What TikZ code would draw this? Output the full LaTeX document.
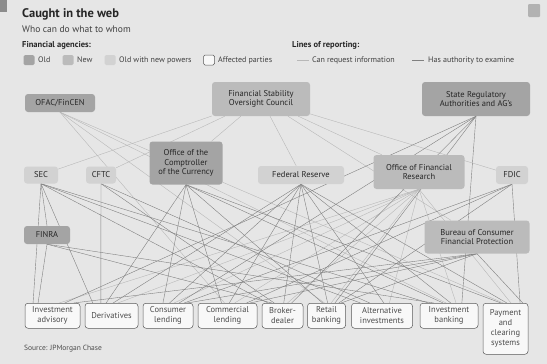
\documentclass[tikz,border=0pt]{standalone}
\usepackage{fontspec}
\setmainfont{PT Sans}
\usetikzlibrary{calc}
\definecolor{cBg}{HTML}{E6E6E6}
\definecolor{cOld}{HTML}{A4A4A4}
\definecolor{cNew}{HTML}{BBBBBB}
\definecolor{cOnp}{HTML}{D2D2D2}
\definecolor{cTxt}{HTML}{262626}
\pgfdeclarelayer{bg}
\pgfdeclarelayer{lines}
\pgfsetlayers{bg,lines,main}
\begin{document}
\begin{tikzpicture}[x=1pt,y=-1pt,
  agency/.style={rounded corners=3pt, align=center, inner sep=1pt, text=cTxt,
    font=\fontsize{8.5}{9.6}\selectfont},
  old/.style={agency, fill=cOld},
  new/.style={agency, fill=cNew},
  onp/.style={agency, fill=cOnp},
  sector/.style={draw=black!65, line width=0.5pt, rounded corners=3pt, fill=white!70!cBg,
    align=center, inner sep=1pt, anchor=north, minimum height=25pt, text=black!70,
    font=\fontsize{8.5}{10}\selectfont},
  req/.style={draw=black!28, line width=0.4pt},
  exa/.style={draw=black!50, line width=0.4pt},
  swatch/.style={rounded corners=1.5pt, minimum width=11pt, minimum height=10pt, inner sep=0pt},
  leg/.style={anchor=west, inner sep=0pt, text=black!75, font=\fontsize{8}{9}\selectfont},
  head/.style={anchor=west, inner sep=0pt, text=cTxt, font=\bfseries\fontsize{8.5}{10}\selectfont}]
\useasboundingbox (0,0) rectangle (547,364);
\begin{pgfonlayer}{bg}
  \fill[cBg] (0,0) rectangle (547,364);
  \fill[black!45] (0,0) rectangle (7,12);
  \fill[black!30, rounded corners=1pt] (528,4) rectangle (540,17);
\end{pgfonlayer}

% titles
\node[anchor=west, inner sep=0pt, text=cTxt, font=\bfseries\fontsize{12.5}{14}\selectfont] (title) at (22,14) {Caught in the web};
\node[anchor=west, inner sep=0pt, text=black!75, font=\fontsize{9.5}{11}\selectfont] (sub) at (22,29) {Who can do what to whom};
\node[head] (fa) at (22,45) {Financial agencies:};
\node[head] (lr) at (292,45) {Lines of reporting:};

% legend
\node[swatch, fill=cOld] (sOld) at (29,60) {};
\node[leg] (tOld) at (38,60) {Old};
\node[swatch, fill=cNew] (sNew) at (68,60) {};
\node[leg] (tNew) at (77,60) {New};
\node[swatch, fill=cOnp] (sOnp) at (110,60) {};
\node[leg] (tOnp) at (119,60) {Old with new powers};
\node[swatch, fill=white!70!cBg, draw=black!65, line width=0.5pt] (sAff) at (209,60) {};
\node[leg] (tAff) at (218,60) {Affected parties};
\coordinate (rq1) at (297,60); \coordinate (rq2) at (309,60);
\draw[req, line width=0.7pt] (rq1) -- (rq2);
\node[leg] (tReq) at (312,60) {Can request information};
\coordinate (ex1) at (412,60); \coordinate (ex2) at (424,60);
\draw[exa, line width=0.7pt] (ex1) -- (ex2);
\node[leg] (tExa) at (428,60) {Has authority to examine};

% agencies
\node[old, minimum width=70pt, minimum height=18pt] (ofac) at (60,103) {OFAC/FinCEN};
\node[new, minimum width=98pt, minimum height=34pt] (fsoc) at (261,99) {Financial Stability\\Oversight Council};
\node[old, minimum width=108pt, minimum height=34pt] (state) at (476,99) {State Regulatory\\Authorities and AG's};
\node[onp, minimum width=34pt, minimum height=17pt] (sec) at (41,175) {SEC};
\node[onp, minimum width=30pt, minimum height=17pt] (cftc) at (101,175) {CFTC};
\node[old, minimum width=73pt, minimum height=43pt] (occ) at (186,163) {Office of the\\Comptroller\\of the Currency};
\node[onp, minimum width=86pt, minimum height=18pt] (fed) at (301,175) {Federal Reserve};
\node[new, minimum width=91pt, minimum height=34pt] (ofr) at (419,172) {Office of Financial\\Research};
\node[onp, minimum width=32pt, minimum height=18pt] (fdic) at (512,175) {FDIC};
\node[old, minimum width=46pt, minimum height=18pt] (finra) at (47,235) {FINRA};
\node[new, minimum width=105pt, minimum height=33pt] (cfpb) at (477,237) {Bureau of Consumer\\Financial Protection};

% affected parties
\node[sector, minimum width=55pt] (ia) at (52.5,303) {Investment\\advisory};
\node[sector, minimum width=53pt] (der) at (111.5,303) {Derivatives};
\node[sector, minimum width=50pt] (cl) at (168,303) {Consumer\\lending};
\node[sector, minimum width=59pt] (coml) at (227.5,303) {Commercial\\lending};
\node[sector, minimum width=41pt] (bd) at (282.5,303) {Broker-\\dealer};
\node[sector, minimum width=38pt] (rb) at (326.5,303) {Retail\\banking};
\node[sector, minimum width=61pt] (ai) at (382,303) {Alternative\\investments};
\node[sector, minimum width=58pt] (ib) at (449,303) {Investment\\banking};
\node[sector, minimum width=45pt, minimum height=51pt] (pcs) at (505.5,303) {Payment\\and\\clearing\\systems};

\node[anchor=west, inner sep=0pt, text=black!70, font=\fontsize{7.5}{9}\selectfont] (src) at (24,349) {Source: JPMorgan Chase};

% connectors: each source lands at its own point along the top of a sector box
\begin{pgfonlayer}{lines}
  \foreach \b in {sec,cftc,occ,fed,ofr,fdic,cfpb}
    \draw[req] (fsoc) -- (\b);
  \foreach \b in {ia,der,cl,coml,bd,rb,ai,ib,pcs}
    \draw[req] (ofr.south) -- ($(\b.north west)!0.62!(\b.north east)$);
  \foreach \b in {rb,coml,pcs,ib}
    \draw[req] (ofac.south) -- ($(\b.north west)!0.45!(\b.north east)$);
  \draw[exa] (sec.south) -- (finra.north);
  \foreach \b in {ia,der,bd,ai,ib}
    \draw[exa] (sec.south) -- ($(\b.north west)!0.15!(\b.north east)$);
  \foreach \b in {der,bd,ai}
    \draw[exa] (cftc.south) -- ($(\b.north west)!0.3!(\b.north east)$);
  \foreach \b in {cl,coml,rb,ib,pcs,der}
    \draw[exa] (occ.south) -- ($(\b.north west)!0.4!(\b.north east)$);
  \foreach \b in {cl,coml,rb,ib,pcs,bd,der,ai}
    \draw[exa] (fed.south) -- ($(\b.north west)!0.53!(\b.north east)$);
  \foreach \b in {cl,coml,rb,pcs}
    \draw[exa] (fdic.south) -- ($(\b.north west)!0.82!(\b.north east)$);
  \foreach \b in {bd,ia,ib}
    \draw[exa] (finra.south) -- ($(\b.north west)!0.24!(\b.north east)$);
  \foreach \b in {cl,rb,pcs,coml,ia}
    \draw[exa] (cfpb.south) -- ($(\b.north west)!0.88!(\b.north east)$);
  \foreach \b in {cl,rb,ia,bd,ib}
    \draw[exa] (state.south) -- ($(\b.north west)!0.72!(\b.north east)$);
\end{pgfonlayer}
\end{tikzpicture}
\end{document}
